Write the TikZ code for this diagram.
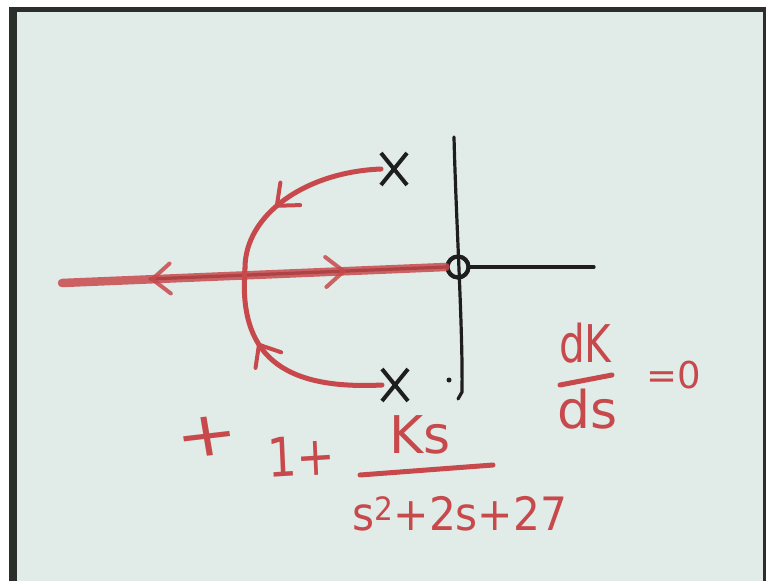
\documentclass[tikz,border=0pt]{standalone}
\usepackage{fontspec}
\setmainfont{DejaVu Sans}
\usetikzlibrary{arrows.meta,decorations.markings,shapes.misc}
\definecolor{paper}{HTML}{E1ECE8}
\definecolor{frame}{HTML}{2A2F2B}
\definecolor{handred}{HTML}{C8494C}
\definecolor{ink}{HTML}{1E1E1E}
\begin{document}
\begin{tikzpicture}[x=1pt,y=-1pt,
  redline/.style={draw=handred,line width=5pt,line cap=round},
  blackline/.style={draw=ink,line width=3.2pt,line cap=round},
  polemark/.style={cross out,draw=ink,line width=4pt,minimum width=22pt,minimum height=28pt,inner sep=0pt},
  zeromark/.style={circle,draw=ink,line width=4pt,minimum size=21pt,inner sep=0pt},
  fwdarrow/.style={postaction={decorate,decoration={markings,
      mark=at position #1 with {\arrow[handred]{Straight Barb[length=18pt,width=30pt,line width=4pt,round]}}}}},
  backarrow/.style={postaction={decorate,decoration={markings,
      mark=at position #1 with {\arrowreversed[handred]{Straight Barb[length=18pt,width=30pt,line width=4pt,round]}}}}},
  hand/.style={text=handred,inner sep=0pt,font=\fontsize{50}{50}\selectfont},
]
\useasboundingbox (0,0) rectangle (766,581);
% paper and frame
\fill[white] (0,0) rectangle (766,581);
\fill[frame] (9,7) rectangle (766,581);
\fill[paper] (17,12) rectangle (763,581);

% named points
\node[zeromark] (o) at (458,267) {};
\node[polemark] (p1) at (394,169) {};
\node[polemark] (p2) at (395,385) {};
\coordinate (b) at (245,268);
\coordinate (rl) at (62,283);
\coordinate (al) at (150,279);
\coordinate (hr) at (594,267);
\coordinate (vt) at (454,137);
\coordinate (vb) at (458,399);

% axes
\draw[blackline] (vt) .. controls (456,220) and (463,330) .. (462,392) -- (vb);
\draw[blackline] (o.east) -- (hr);
\draw[blackline] (al) -- (o.west);
\node[zeromark] at (o.center) {};

% real-axis locus
\draw[draw=handred,line width=8.5pt,line cap=round,opacity=.85,
      backarrow=0.23,fwdarrow=0.74] (rl) -- (o.west);

% complex branches
\draw[redline,fwdarrow=0.62] (p1.west) .. controls (305,172) and (245,215) .. (b);
\draw[redline,fwdarrow=0.64] (p2.west) .. controls (282,390) and (238,355) .. (b);

% dot
\fill[ink] (449,380) circle (2.5pt);

% expressions
\node[hand,anchor=center,font=\fontsize{62}{62}\selectfont,xscale=1.2,rotate=8] (plus) at (207,437) {+};
\node[hand,anchor=base west,font=\fontsize{54}{54}\selectfont,xscale=0.85,rotate=3] (one) at (268,478) {1+};
\node[hand,anchor=base west,font=\fontsize{52}{52}\selectfont] (num) at (389,453) {Ks};
\coordinate (bl) at (360,475);
\coordinate (br) at (493,465);
\draw[redline] (bl) -- (br);
\node[hand,anchor=base west,font=\fontsize{46}{46}\selectfont,xscale=0.92] (den) at (352,530) {s\textsuperscript{2}+2s+27};

\node[hand,anchor=base west,font=\fontsize{52}{52}\selectfont,xscale=0.78] (dk) at (559,362) {dK};
\coordinate (dl) at (560,385);
\coordinate (dr) at (612,375);
\draw[redline] (dl) -- (dr);
\node[hand,anchor=base west,font=\fontsize{52}{52}\selectfont] (ds) at (557,428) {ds};
\node[hand,anchor=base west,font=\fontsize{37}{37}\selectfont] (eq) at (646,388) {=0};
\end{tikzpicture}
\end{document}
